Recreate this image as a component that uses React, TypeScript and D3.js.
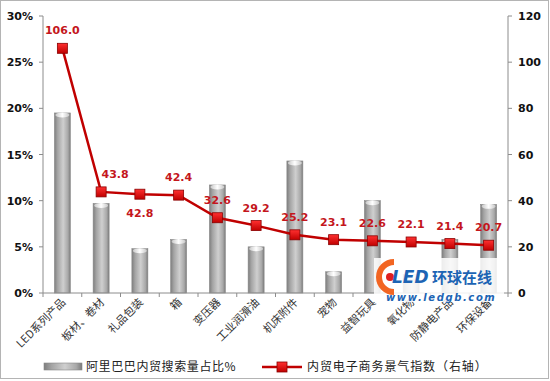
import React from "react";
import * as d3 from "d3";

const categories = ["LED系列产品", "板材、卷材", "礼品包装", "箱", "变压器", "工业润滑油", "机床附件", "宠物", "益智玩具", "氧化物", "防静电产品", "环保设备"];
const searchShare = [19.5, 9.7, 4.8, 5.8, 11.7, 5.0, 14.3, 2.3, 10.0, 2.0, 5.8, 9.6];
const indexValues = [106.0, 43.8, 42.8, 42.4, 32.6, 29.2, 25.2, 23.1, 22.6, 22.1, 21.4, 20.7];
const leftTicks = [0, 5, 10, 15, 20, 25, 30];
const rightTicks = [0, 20, 40, 60, 80, 100, 120];
const barLegend = "阿里巴巴内贸搜索量占比%";
const lineLegend = "内贸电子商务景气指数（右轴）";

const W = 550, H = 381;
const L = 43, R = 508, T = 16, B = 293;

export default function App() {
  const x = d3.scaleBand<string>().domain(categories).range([L, R]);
  const yL = d3.scaleLinear().domain([0, 30]).range([B, T]);
  const yR = d3.scaleLinear().domain([0, 120]).range([B, T]);
  const cx = (c: string) => (x(c) as number) + x.bandwidth() / 2;
  const bw = 16;
  const line = d3.line<number>().x((_, i) => cx(categories[i])).y((d) => yR(d));
  const numFont = "'DejaVu Sans', Verdana, sans-serif";
  const cjk = "'Noto Sans CJK SC', sans-serif";

  return (
    <svg width={W} height={H} style={{ position: "absolute", left: 0, top: 0, background: "#fff" }}>
      <defs>
        <linearGradient id="barG" x1="0" x2="1" y1="0" y2="0">
          <stop offset="0" stopColor="#7e7e7e" />
          <stop offset="0.2" stopColor="#a4a4a4" />
          <stop offset="0.55" stopColor="#cfcfcf" />
          <stop offset="0.85" stopColor="#a8a8a8" />
          <stop offset="1" stopColor="#7a7a7a" />
        </linearGradient>
        <linearGradient id="capG" x1="0" x2="1" y1="0" y2="0">
          <stop offset="0" stopColor="#c8c8c8" />
          <stop offset="0.5" stopColor="#ffffff" />
          <stop offset="1" stopColor="#c8c8c8" />
        </linearGradient>
        <linearGradient id="mkG" x1="0" x2="0" y1="0" y2="1">
          <stop offset="0" stopColor="#ff3030" />
          <stop offset="1" stopColor="#c00000" />
        </linearGradient>
      </defs>
      <rect x={0.5} y={0.5} width={548} height={378} fill="#fff" stroke="#b4b4b4" />

      {/* bars */}
      {categories.map((c, i) => {
        const y0 = yL(searchShare[i]);
        return (
          <g key={c}>
            <rect x={cx(c) - bw / 2} y={y0} width={bw} height={B - y0} fill="url(#barG)" stroke="#8a8a8a" strokeWidth={0.6} />
            <ellipse cx={cx(c)} cy={y0 + 2} rx={bw / 2 - 1} ry={2.5} fill="url(#capG)" />
          </g>
        );
      })}

      {/* left axis */}
      <line x1={L} x2={L} y1={T} y2={B} stroke="#8c8c8c" />
      {leftTicks.map((t) => (
        <g key={t}>
          <line x1={L - 4} x2={L} y1={yL(t)} y2={yL(t)} stroke="#8c8c8c" />
          <text x={33} y={yL(t) + 4} textAnchor="end" fontFamily={numFont} fontWeight="bold" fontSize={11} fill="#111">{t}%</text>
        </g>
      ))}
      {/* right axis */}
      <line x1={R} x2={R} y1={T} y2={B} stroke="#8c8c8c" />
      {rightTicks.map((t) => (
        <g key={t}>
          <line x1={R} x2={R + 4} y1={yR(t)} y2={yR(t)} stroke="#8c8c8c" />
          <text x={518} y={yR(t) + 4} textAnchor="start" fontFamily={numFont} fontWeight="bold" fontSize={11} fill="#111">{t}</text>
        </g>
      ))}
      {/* x axis */}
      <line x1={L} x2={R} y1={B} y2={B} stroke="#8c8c8c" />
      {categories.map((c) => (
        <line key={c} x1={(x(c) as number)} x2={(x(c) as number)} y1={B} y2={B + 4} stroke="#8c8c8c" />
      ))}
      <line x1={R} x2={R} y1={B} y2={B + 4} stroke="#8c8c8c" />
      {categories.map((c) => (
        <text key={c} transform={`translate(${cx(c) + 4},${B + 10}) rotate(-45)`} textAnchor="end" fontFamily={cjk} fontSize={11} fill="#333">{c}</text>
      ))}

      {/* line series */}
      <path d={line(indexValues) as string} fill="none" stroke="#c00000" strokeWidth={2.5} />
      {indexValues.map((v, i) => (
        <rect key={i} x={cx(categories[i]) - 5} y={yR(v) - 5} width={10} height={10} fill="url(#mkG)" stroke="#8a0000" strokeWidth={0.8} />
      ))}
      {indexValues.map((v, i) => {
        const below = i === 2;
        const dx = i === 1 ? 14 : 0;
        return (
          <text key={i} x={cx(categories[i]) + dx} y={below ? yR(v) + 23 : yR(v) - 14} textAnchor="middle" fontFamily={numFont} fontWeight="bold" fontSize={11} fill="#c4161c">{v.toFixed(1)}</text>
        );
      })}

      {/* watermark logo */}
      <g>
        <rect x={374} y={258} width={130} height={44} fill="#fff" opacity={0.85} />
        <path d="M394,262 A15,15 0 1,0 394,292" fill="none" stroke="#f26522" strokeWidth={6} />
        <circle cx={390} cy={277} r={4} fill="#e02020" />
        <text x={392} y={283} fontFamily="'DejaVu Sans', sans-serif" fontWeight="bold" fontStyle="italic" fontSize={17} fill="#1d64b4">LED</text>
        <text x={432} y={283} fontFamily={cjk} fontWeight="bold" fontSize={15} fill="#1d64b4">环球在线</text>
        <text x={386} y={301} fontFamily="'DejaVu Sans', sans-serif" fontWeight="bold" fontStyle="italic" fontSize={10} letterSpacing={1.6} fill="#1d64b4">www.ledgb.com</text>
      </g>

      {/* legend */}
      <rect x={44} y={363} width={38} height={7} fill="url(#barG)" stroke="#888" strokeWidth={0.6} />
      <text x={86} y={371} fontFamily={cjk} fontSize={12} letterSpacing={0.6} fill="#222">{barLegend}</text>
      <line x1={262} x2={302} y1={367} y2={367} stroke="#c00000" strokeWidth={2.5} />
      <rect x={277} y={362} width={10} height={10} fill="url(#mkG)" stroke="#8a0000" strokeWidth={0.8} />
      <text x={307} y={371} fontFamily={cjk} fontSize={12} letterSpacing={0.9} fill="#222">{lineLegend}</text>
    </svg>
  );
}
